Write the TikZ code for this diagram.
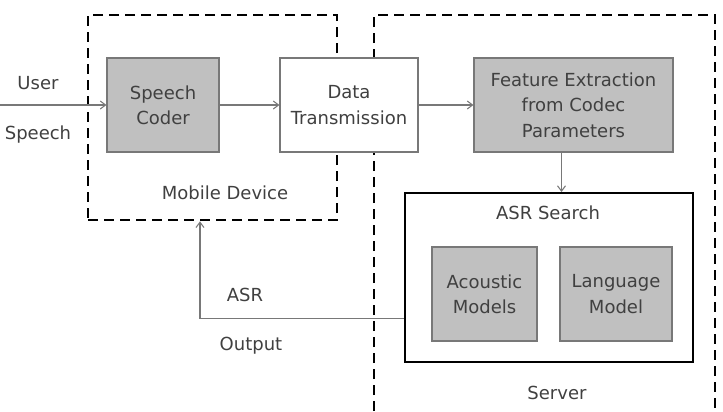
\documentclass[tikz,border=0pt]{standalone}
\usepackage{fontspec}
\setmainfont{DejaVu Sans}
\usetikzlibrary{arrows.meta}

\definecolor{txtgray}{RGB}{64,64,64}
\definecolor{boxgray}{RGB}{192,192,192}
\definecolor{edgegray}{RGB}{120,120,120}

\begin{document}
\begin{tikzpicture}[x=0.75pt,y=0.75pt,yscale=-1,
    every node/.style={font=\fontsize{13.5}{19}\selectfont, text=txtgray, align=center},
    graybox/.style={draw=edgegray, fill=boxgray, line width=0.8pt, minimum height=70.5pt, inner sep=2pt},
    whitebox/.style={draw=edgegray, fill=white, line width=0.8pt, minimum height=70.5pt, inner sep=2pt},
    searchbox/.style={draw=black, line width=1.5pt, minimum width=216pt, minimum height=126.75pt},
    devbox/.style={draw=black, line width=2pt, dash pattern=on 7.5pt off 4.5pt, minimum width=186.75pt, minimum height=153.75pt},
    link/.style={draw=edgegray, line width=0.8pt, -{Straight Barb[length=4pt,width=6pt]}}]
    \useasboundingbox (0,0) rectangle (723,411);

    %Dashed regions
    \node [devbox] (mobile) at (212.5,117.5) {};
    \draw [line width=2pt, dash pattern=on 7.5pt off 4.5pt] (374,411) -- (374,15) -- (715,15) -- (715,411);

    %Blocks
    \node [graybox, minimum width=84pt] (coder) at (163,105) {Speech\\Coder};
    \node [whitebox, minimum width=103.5pt] (trans) at (349,105) {Data\\Transmission};
    \node [graybox, minimum width=149.25pt] (feat) at (573.5,105) {Feature Extraction\\from Codec\\Parameters};
    \node [searchbox] (search) at (549,277.5) {};
    \node [graybox, minimum width=78.75pt] (acoustic) at (484.5,294) {Acoustic\\Models};
    \node [graybox, minimum width=84pt] (lang) at (616,294) {Language\\Model};

    % Text Node
    \node (user) at (38,83) {User};
    \node (speech) at (38,135) {Speech};
    \node (mobilelbl) at (225,193) {Mobile Device};
    \node (asr) at (245,295) {ASR};
    \node (output) at (251,346) {Output};
    \node (searchlbl) at (548,213) {ASR Search};
    \node (server) at (557,393) {Server};

    %Connectors
    \coordinate (input) at (0,105);
    \draw [link] (input) -- (coder);
    \draw [link] (coder) -- (trans);
    \draw [link] (trans) -- (feat);
    \draw [link] ([xshift=-9pt]feat.south) -- ([xshift=-9pt]feat.south |- search.north);
    \draw [link] ([yshift=31pt]search.west) -| ([xshift=-9.4pt]mobile.south);
\end{tikzpicture}
\end{document}
